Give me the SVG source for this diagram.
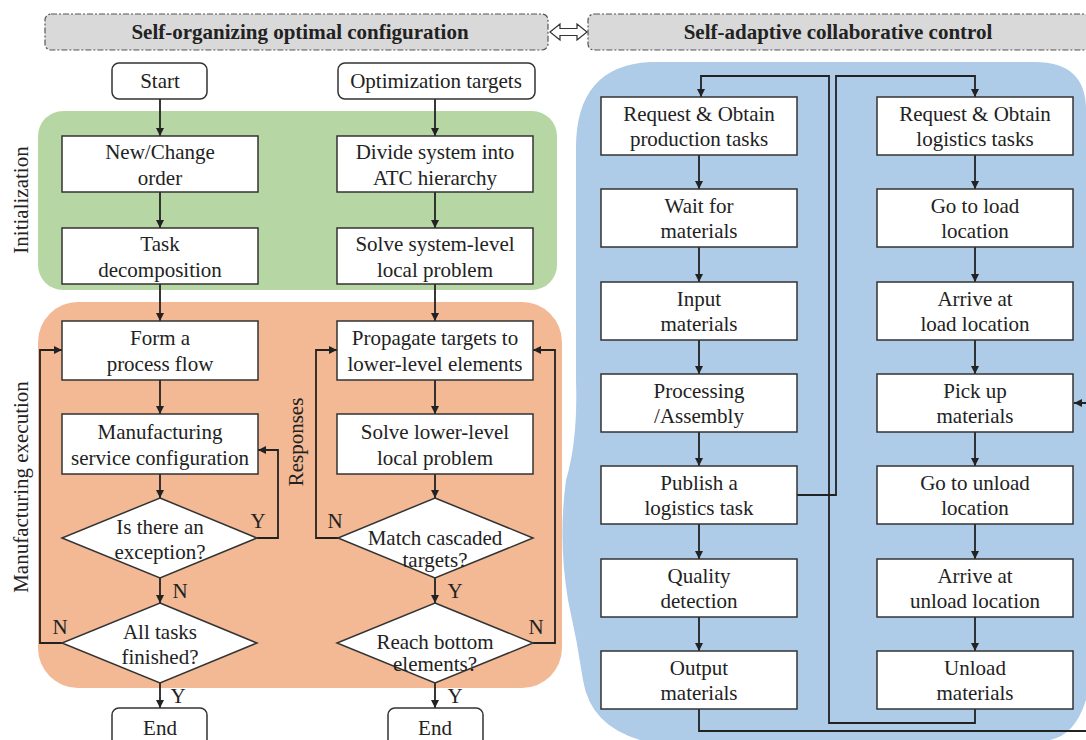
<svg xmlns="http://www.w3.org/2000/svg" width="1086" height="740" viewBox="0 0 1086 740">
<defs>
<marker id="ah" viewBox="0 0 8 8" refX="8" refY="4" markerWidth="8" markerHeight="8" markerUnits="userSpaceOnUse" orient="auto">
<path d="M0,0 L8,4 L0,8 z" fill="#222"/>
</marker>
<style>
text{font-family:'Liberation Serif','DejaVu Serif',serif}
.t{font-size:21px;fill:#222;text-anchor:middle}
.h{font-size:21px;font-weight:bold;fill:#222;text-anchor:middle}
.box{fill:#fff;stroke:#333;stroke-width:1.5}
.hdr{fill:#d9d9d9;stroke:#555;stroke-width:1.2;stroke-dasharray:6 2 2 2}
.a{fill:none;stroke:#222;stroke-width:1.8;marker-end:url(#ah)}
</style>
</defs>
<rect width="1086" height="740" fill="#fff"/>
<g id="regions">
<rect x="38" y="111" width="519" height="179" rx="25" fill="#b6d7a3"/>
<rect x="38" y="302" width="524" height="386" rx="40" fill="#f3b994"/>
<path d="M650,62 H1035 Q1086,62 1086,110 V700 Q1075,735 1050,740 H640 Q590,725 583,680 Q577,640 568,600 Q558,540 566,480 Q578,440 576,380 V150 Q575,66 650,62 Z" fill="#aecbe8"/>
</g>
<g id="headers">
<rect class="hdr" x="45" y="14" width="503" height="36" rx="6"/>
<text class="h" x="300" y="39">Self-organizing optimal configuration</text>
<rect class="hdr" x="588" y="14" width="510" height="36" rx="6"/>
<text class="h" x="838" y="39">Self-adaptive collaborative control</text>
<polygon points="550,32 560,24 560,28.5 577,28.5 577,24 587,32 577,40 577,35.5 560,35.5 560,40" fill="#fff" stroke="#333" stroke-width="1.2"/>
</g>
<g id="side-labels">
<text class="t" transform="translate(28,200) rotate(-90)">Initialization</text>
<text class="t" transform="translate(28,487) rotate(-90)">Manufacturing execution</text>
<text class="t" transform="translate(303,442) rotate(-90)">Responses</text>
</g>
<g id="connectors">
<path class="a" d="M160,99 V136"/>
<path class="a" d="M160,192 V228"/>
<path class="a" d="M160,284 V321"/>
<path class="a" d="M160,380 V414"/>
<path class="a" d="M160,474 V498"/>
<path class="a" d="M160,578 V603"/>
<path class="a" d="M160,683 V708"/>
<path class="a" d="M257,538 H278 V450 H258"/>
<path class="a" d="M62,643 H40 V350 H62"/>
<path class="a" d="M435,99 V136"/>
<path class="a" d="M435,192 V228"/>
<path class="a" d="M435,284 V321"/>
<path class="a" d="M435,380 V414"/>
<path class="a" d="M435,474 V498"/>
<path class="a" d="M435,578 V603"/>
<path class="a" d="M435,683 V708"/>
<path class="a" d="M338,538 H316 V350 H337"/>
<path class="a" d="M533,643 H555 V350 H533"/>
<path class="a" d="M699,155 V189"/>
<path class="a" d="M699,247 V282"/>
<path class="a" d="M699,340 V374"/>
<path class="a" d="M699,432 V466"/>
<path class="a" d="M699,524 V559"/>
<path class="a" d="M699,617 V651"/>
<path class="a" d="M975,155 V189"/>
<path class="a" d="M975,247 V282"/>
<path class="a" d="M975,340 V374"/>
<path class="a" d="M975,432 V466"/>
<path class="a" d="M975,524 V559"/>
<path class="a" d="M975,617 V651"/>
<path class="a" d="M699,709 V731 H1092 V403 H1074"/>
<path class="a" d="M975,709 V723 H829 V76 H701 V97"/>
<path class="a" d="M797,495 H836 V76 H975 V97"/>
</g>
<g id="start"><rect class="box" x="112" y="63" width="95" height="36" rx="7"/><text class="t" x="160" y="88">Start</text></g>
<g id="opt-targets"><rect class="box" x="338" y="63" width="197" height="36" rx="7"/><text class="t" x="436" y="88">Optimization targets</text></g>
<g id="new-order"><rect class="box" x="62" y="136" width="196" height="56"/><text class="t" x="160" y="159">New/Change</text><text class="t" x="160" y="185">order</text></g>
<g id="task-decomp"><rect class="box" x="62" y="228" width="196" height="56"/><text class="t" x="160" y="251">Task</text><text class="t" x="160" y="277">decomposition</text></g>
<g id="divide"><rect class="box" x="337" y="136" width="196" height="56"/><text class="t" x="435" y="159">Divide system into</text><text class="t" x="435" y="185">ATC hierarchy</text></g>
<g id="solve-sys"><rect class="box" x="337" y="228" width="196" height="56"/><text class="t" x="435" y="251">Solve system-level</text><text class="t" x="435" y="277">local problem</text></g>
<g id="form-flow"><rect class="box" x="62" y="321" width="196" height="59"/><text class="t" x="160" y="345">Form a</text><text class="t" x="160" y="371">process flow</text></g>
<g id="mfg-config"><rect class="box" x="62" y="414" width="196" height="60"/><text class="t" x="160" y="439">Manufacturing</text><text class="t" x="160" y="465">service configuration</text></g>
<g id="exception"><polygon class="box" points="160,498 257,538 160,578 62,538"/><text class="t" x="160" y="534">Is there an</text><text class="t" x="160" y="559">exception?</text><text class="t" x="258" y="528">Y</text><text class="t" x="180" y="598">N</text></g>
<g id="all-tasks"><polygon class="box" points="160,603 257,643 160,683 62,643"/><text class="t" x="160" y="639">All tasks</text><text class="t" x="160" y="664">finished?</text><text class="t" x="60" y="634">N</text><text class="t" x="178" y="703">Y</text></g>
<g id="end1"><rect class="box" x="112" y="708" width="95" height="40" rx="7"/><text class="t" x="160" y="735">End</text></g>
<g id="propagate"><rect class="box" x="337" y="321" width="196" height="59"/><text class="t" x="435" y="345">Propagate targets to</text><text class="t" x="435" y="371">lower-level elements</text></g>
<g id="solve-lower"><rect class="box" x="337" y="414" width="196" height="60"/><text class="t" x="435" y="439">Solve lower-level</text><text class="t" x="435" y="465">local problem</text></g>
<g id="match"><polygon class="box" points="435,498 533,538 435,578 338,538"/><text class="t" x="435" y="545">Match cascaded</text><text class="t" x="435" y="567">targets?</text><text class="t" x="335" y="528">N</text><text class="t" x="455" y="598">Y</text></g>
<g id="reach"><polygon class="box" points="435,603 533,643 435,683 337,643"/><text class="t" x="435" y="649">Reach bottom</text><text class="t" x="435" y="671">elements?</text><text class="t" x="536" y="634">N</text><text class="t" x="455" y="703">Y</text></g>
<g id="end2"><rect class="box" x="388" y="708" width="95" height="40" rx="7"/><text class="t" x="435" y="735">End</text></g>
<g id="req-prod"><rect class="box" x="601" y="97" width="196" height="58"/><text class="t" x="699" y="121">Request &amp; Obtain</text><text class="t" x="699" y="146">production tasks</text></g>
<g id="wait"><rect class="box" x="601" y="189" width="196" height="58"/><text class="t" x="699" y="213">Wait for</text><text class="t" x="699" y="238">materials</text></g>
<g id="input"><rect class="box" x="601" y="282" width="196" height="58"/><text class="t" x="699" y="306">Input</text><text class="t" x="699" y="331">materials</text></g>
<g id="processing"><rect class="box" x="601" y="374" width="196" height="58"/><text class="t" x="699" y="398">Processing</text><text class="t" x="699" y="423">/Assembly</text></g>
<g id="publish"><rect class="box" x="601" y="466" width="196" height="58"/><text class="t" x="699" y="490">Publish a</text><text class="t" x="699" y="515">logistics task</text></g>
<g id="quality"><rect class="box" x="601" y="559" width="196" height="58"/><text class="t" x="699" y="583">Quality</text><text class="t" x="699" y="608">detection</text></g>
<g id="output"><rect class="box" x="601" y="651" width="196" height="58"/><text class="t" x="699" y="675">Output</text><text class="t" x="699" y="700">materials</text></g>
<g id="req-log"><rect class="box" x="877" y="97" width="196" height="58"/><text class="t" x="975" y="121">Request &amp; Obtain</text><text class="t" x="975" y="146">logistics tasks</text></g>
<g id="go-load"><rect class="box" x="877" y="189" width="196" height="58"/><text class="t" x="975" y="213">Go to load</text><text class="t" x="975" y="238">location</text></g>
<g id="arrive-load"><rect class="box" x="877" y="282" width="196" height="58"/><text class="t" x="975" y="306">Arrive at</text><text class="t" x="975" y="331">load location</text></g>
<g id="pick-up"><rect class="box" x="877" y="374" width="196" height="58"/><text class="t" x="975" y="398">Pick up</text><text class="t" x="975" y="423">materials</text></g>
<g id="go-unload"><rect class="box" x="877" y="466" width="196" height="58"/><text class="t" x="975" y="490">Go to unload</text><text class="t" x="975" y="515">location</text></g>
<g id="arrive-unload"><rect class="box" x="877" y="559" width="196" height="58"/><text class="t" x="975" y="583">Arrive at</text><text class="t" x="975" y="608">unload location</text></g>
<g id="unload"><rect class="box" x="877" y="651" width="196" height="58"/><text class="t" x="975" y="675">Unload</text><text class="t" x="975" y="700">materials</text></g>
</svg>
